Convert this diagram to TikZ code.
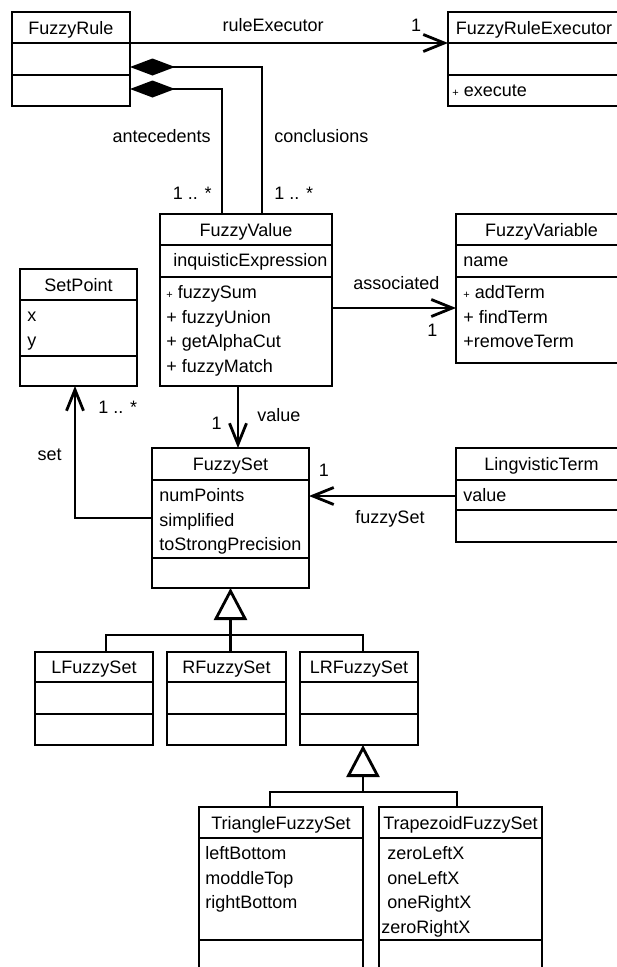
\documentclass[tikz,border=0pt]{standalone}
\usepackage{fontspec}
\setmainfont{Liberation Sans}
\usetikzlibrary{arrows.meta,calc}
\newcommand\smallplus{{\fontsize{11}{11}\selectfont+}}

\begin{document}
\begin{tikzpicture}[x=1pt,y=-1pt,line width=2.8pt,inner sep=0,font=\fontsize{18}{24}\selectfont,
	box/.style={draw,outer sep=0,anchor=north west},
	assoc/.style={arrows={-Straight Barb[length=21pt,width=17pt]}},
	comp/.style={arrows={Diamond[length=45pt,width=17pt]-}},
	gen/.style={arrows={-Triangle[open,length=32pt,width=33pt]}}]
	\clip[use as bounding box] (0,0) rectangle (617,967);
	% classes: name/left/top/right/divider/divider/bottom/title
	\foreach \n/\xl/\yt/\xr/\ya/\yb/\yd/\ti in {rule/12/12/130/43/75/106/FuzzyRule, exec/448/12/620/43/75/106/FuzzyRuleExecutor,
		fv/160/214/332/245/277/386/FuzzyValue, var/456/214/627/245/277/363/FuzzyVariable, pt/20/269/137/300/356/386/SetPoint,
		fs/152/448/309/480/558/588/FuzzySet, term/456/448/627/480/510/542/LingvisticTerm,
		lfs/35/652/153/682/714/745/LFuzzySet, rfs/167/652/286/682/714/745/RFuzzySet, lrfs/300/652/418/682/714/745/LRFuzzySet,
		tri/199/807/363/838/940/1000/TriangleFuzzySet, trap/379/807/542/838/940/1000/TrapezoidFuzzySet}{
		\node[box,minimum width=\xr-\xl,minimum height=\yd-\yt] (\n) at (\xl,\yt) {};
		\draw (\xl,\ya)--(\xr,\ya) (\xl,\yb)--(\xr,\yb);
		\node[anchor=base] (\n-t) at ({(\xl+\xr)/2},{(\yt+\ya)/2+6.5}) {\ti};
	}
	% attributes and operations
	\foreach \n/\x/\y/\lst in {execm/451/75/{\smallplus{} execute}, fva/172/245/{inquisticExpression},
		fvm/165/277/{\smallplus{} fuzzySum,+ fuzzyUnion,+ getAlphaCut,+ fuzzyMatch}, vara/462/245/{name},
		varm/462/277/{\smallplus{} addTerm,+ findTerm,+removeTerm}, pta/26/300/{x,y},
		fsa/158/480/{numPoints,simplified,toStrongPrecision}, terma/462/480/{value},
		tria/204/838/{leftBottom,moddleTop,rightBottom},
		trapa/380/838/{\hspace*{6pt}zeroLeftX,\hspace*{6pt}oneLeftX,\hspace*{6pt}oneRightX,zeroRightX}}
		\foreach \t [count=\i] in \lst \node[anchor=base west] (\n\i) at (\x,\y+21.5+24.5*\i-24.5) {\t};
	% associations
	\draw[assoc] ([yshift=-31]rule.north east) -- node[pos=.45,anchor=base,yshift=11.5] (rex) {ruleExecutor}
		node[pos=.9,anchor=base,yshift=11.5] (rex-m) {1} ([yshift=-31]exec.north west);
	\draw[comp] ([yshift=-77]rule.north east) -| node[pos=.714,anchor=base east,xshift=-10] (ant) {antecedents}
		node[pos=.942,anchor=base east,xshift=-9] (ant-m) {1 .. *} ([xshift=62]fv.north west);
	\draw[comp] ([yshift=-55]rule.north east) -| node[pos=.757,anchor=base west,xshift=11] (con) {conclusions}
		node[pos=.95,anchor=base west,xshift=11] (con-m) {1 .. *} ([xshift=102]fv.north west);
	\draw[assoc] ([yshift=-94]fv.north east) -- node[pos=.52,anchor=base,yshift=18.5] (ass) {associated}
		node[pos=.81,anchor=base,yshift=-28.5] (ass-m) {1} ([yshift=-94]var.north west);
	\draw[assoc] ([xshift=-8]fv.south) -- node[pos=.57,anchor=base west,xshift=18] (val) {value}
		node[pos=.7,anchor=base east,xshift=-15] (val-m) {1} ([xshift=7.5]fs.north);
	\draw[assoc] ([yshift=-70]fs.north west) -| node[pos=.718,anchor=base east,xshift=-12] (set) {set}
		node[pos=.896,anchor=base west,xshift=22] (set-m) {1 .. *} ([xshift=-3.5]pt.south);
	\draw[assoc] ([yshift=-48]term.north west) -- node[pos=.449,anchor=base,yshift=-27.5] (fsl) {fuzzySet}
		node[pos=.898,anchor=base,yshift=19.5] (fsl-m) {1} ([yshift=-48]fs.north east);
	% generalizations
	\coordinate (j1) at ($(fs.south |- rfs.north)+(0,-17)$);
	\coordinate (j2) at ($(lrfs.south |- tri.north)+(4,-15)$);
	\draw[gen] (j1) -- (fs.south);
	\draw ([xshift=12]lfs.north) |- (j1) -| ([xshift=4]lrfs.north) (j1) -- (j1 |- rfs.north);
	\draw[gen] (j2) -- ([xshift=4]lrfs.south);
	\draw ([xshift=-11]tri.north) |- (j2) -| ([xshift=-3.5]trap.north);
\end{tikzpicture}
\end{document}
